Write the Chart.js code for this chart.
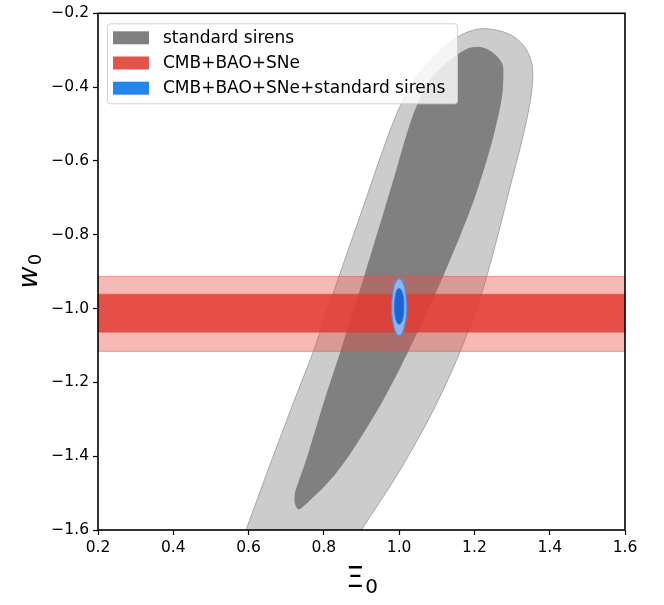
<!DOCTYPE html>
<html><head><meta charset="utf-8">
<script src="https://cdn.jsdelivr.net/npm/chart.js@4.4.1/dist/chart.umd.min.js"></script>
<style>html,body{margin:0;padding:0;background:#fff;}canvas{display:block;}</style>
</head><body>
<canvas id="c" width="664" height="605"></canvas>
<script>
// ---- tick labels ----
const xTicks = [0.2, 0.4, 0.6, 0.8, 1.0, 1.2, 1.4, 1.6];
const yTicks = [-1.6, -1.4, -1.2, -1.0, -0.8, -0.6, -0.4, -0.2];
// axis titles: [main symbol, subscript]
const xTitle = ['Ξ', '0'];
const yTitle = ['w', '0'];

// ---- legend ----
const legendLabels = ['standard sirens', 'CMB+BAO+SNe', 'CMB+BAO+SNe+standard sirens'];
const legendColors = ['#808080', '#e5544a', '#2684eb'];

// ---- standard sirens: 95% contour (outer) ----
const sirens95X = [0.576,0.595,0.656,0.720,0.771,0.816,0.861,0.907,0.943,0.971,1.003,1.048,1.101,1.155,1.208,1.256,1.301,1.333,1.349,1.355,1.352,1.341,1.323,1.296,1.261,1.219,1.161,1.089,1.001,0.903,0.869];
const sirens95Y = [-1.648,-1.595,-1.426,-1.253,-1.119,-0.985,-0.852,-0.718,-0.611,-0.531,-0.451,-0.371,-0.310,-0.264,-0.243,-0.245,-0.261,-0.291,-0.323,-0.358,-0.411,-0.478,-0.558,-0.665,-0.806,-0.959,-1.119,-1.279,-1.440,-1.595,-1.648];

// ---- standard sirens: 68% contour (inner) ----
const sirens68X = [0.843,0.885,0.925,0.965,0.992,1.011,1.027,1.043,1.083,1.136,1.181,1.216,1.243,1.261,1.275,1.277,1.275,1.269,1.251,1.229,1.199,1.164,1.120,1.085,1.023,0.955,0.875,0.837,0.803,0.771,0.749,0.733,0.723,0.723,0.731,0.752,0.776,0.800,0.843];
const sirens68Y = [-1.119,-0.985,-0.852,-0.718,-0.625,-0.558,-0.505,-0.459,-0.379,-0.326,-0.296,-0.291,-0.302,-0.318,-0.339,-0.363,-0.411,-0.451,-0.531,-0.611,-0.705,-0.798,-0.905,-0.985,-1.119,-1.253,-1.386,-1.440,-1.480,-1.512,-1.533,-1.544,-1.528,-1.501,-1.474,-1.413,-1.333,-1.253,-1.119];

// ---- CMB+BAO+SNe: w0 bands (upper, lower) ----
const cmbBandX = [0.1, 1.7];
const cmb95Y = [-0.913, -1.116];
const cmb68Y = [-0.961, -1.064];

// ---- CMB+BAO+SNe+standard sirens ----
const joint95X = [1.020,1.017,1.010,1.000,0.990,0.983,0.980,0.983,0.990,1.000,1.010,1.017,1.020];
const joint95Y = [-0.996,-0.957,-0.929,-0.918,-0.929,-0.957,-0.996,-1.035,-1.063,-1.074,-1.063,-1.035,-0.996];
const joint68X = [1.013,1.012,1.007,1.000,0.993,0.989,0.987,0.989,0.993,1.000,1.007,1.012,1.013];
const joint68Y = [-0.994,-0.970,-0.952,-0.945,-0.952,-0.970,-0.994,-1.019,-1.036,-1.043,-1.036,-1.019,-0.994];

// ---- helpers ----
const pts = (xs, ys) => xs.map((x, i) => ({x: x, y: ys[i]}));
const band = (ys) => [
  {x: cmbBandX[0], y: ys[0]}, {x: cmbBandX[1], y: ys[0]},
  {x: cmbBandX[1], y: ys[1]}, {x: cmbBandX[0], y: ys[1]}, {x: cmbBandX[0], y: ys[0]}
];
const fmt = v => (Math.round(v * 10) / 10).toFixed(1).replace('-', '\u2212');
const FAM = "'DejaVu Sans', sans-serif";

Chart.defaults.font.family = FAM;
Chart.defaults.color = '#000';

const common = {showLine: true, pointRadius: 0, pointHoverRadius: 0, fill: 'shape'};

function drawSubLabel(ctx, parts, cx, baseY, rot, mainFont, subFont, subDrop) {
  ctx.save();
  ctx.translate(cx, baseY);
  ctx.rotate(rot);
  ctx.fillStyle = '#000';
  ctx.textBaseline = 'alphabetic';
  ctx.textAlign = 'left';
  ctx.font = mainFont;
  const w1 = ctx.measureText(parts[0]).width;
  ctx.font = subFont;
  const w2 = ctx.measureText(parts[1]).width;
  const x0 = -(w1 + w2) / 2;
  ctx.font = mainFont;
  ctx.fillText(parts[0], x0, 0);
  ctx.font = subFont;
  ctx.fillText(parts[1], x0 + w1 + 1, subDrop);
  ctx.restore();
}

const frameAndLegend = {
  id: 'frameAndLegend',
  afterDatasetsDraw(chart) {
    const {ctx, chartArea: a} = chart;
    ctx.save();
    // axes frame
    ctx.strokeStyle = '#000';
    ctx.lineWidth = 1.6;
    ctx.strokeRect(a.left, a.top, a.right - a.left, a.bottom - a.top);
    // legend box
    const bx = a.left + 9.5, by = a.top + 10.5, bw = 350, bh = 80, r = 3;
    ctx.beginPath();
    ctx.moveTo(bx + r, by);
    ctx.lineTo(bx + bw - r, by); ctx.quadraticCurveTo(bx + bw, by, bx + bw, by + r);
    ctx.lineTo(bx + bw, by + bh - r); ctx.quadraticCurveTo(bx + bw, by + bh, bx + bw - r, by + bh);
    ctx.lineTo(bx + r, by + bh); ctx.quadraticCurveTo(bx, by + bh, bx, by + bh - r);
    ctx.lineTo(bx, by + r); ctx.quadraticCurveTo(bx, by, bx + r, by);
    ctx.closePath();
    ctx.fillStyle = 'rgba(255,255,255,0.8)';
    ctx.fill();
    ctx.strokeStyle = 'rgba(204,204,204,0.9)';
    ctx.lineWidth = 1;
    ctx.stroke();
    ctx.font = "17px " + FAM;
    ctx.textBaseline = 'middle';
    ctx.textAlign = 'left';
    legendLabels.forEach((lab, i) => {
      const cy = a.top + 24.5 + i * 25.2;
      ctx.fillStyle = legendColors[i];
      ctx.fillRect(a.left + 15, cy - 6.5, 36, 13);
      ctx.fillStyle = '#000';
      ctx.fillText(lab, a.left + 65, cy + 0.5);
    });
    ctx.restore();
  },
  afterDraw(chart) {
    const {ctx, chartArea: a} = chart;
    const cx = (a.left + a.right) / 2, cy = (a.top + a.bottom) / 2;
    drawSubLabel(ctx, xTitle, cx, 587, 0, "29px " + FAM, "20px " + FAM, 6);
    drawSubLabel(ctx, yTitle, 37, cy, -Math.PI / 2, "italic 27px " + FAM, "18px " + FAM, 4);
  }
};

new Chart(document.getElementById('c'), {
  type: 'scatter',
  data: {
    datasets: [
      {...common, label: legendLabels[2] + ' 68%', data: pts(joint68X, joint68Y), order: 0, tension: 0.4,
        backgroundColor: '#1b64d6', borderColor: 'rgba(60,130,230,0.9)', borderWidth: 1},
      {...common, label: legendLabels[2] + ' 95%', data: pts(joint95X, joint95Y), order: 1, tension: 0.4,
        backgroundColor: 'rgb(140,182,240)', borderColor: 'rgb(75,145,232)', borderWidth: 1.2},
      {...common, label: legendLabels[1] + ' 68%', data: band(cmb68Y), order: 2, tension: 0,
        backgroundColor: 'rgba(226,58,48,0.84)', borderColor: 'rgba(226,58,48,0.4)', borderWidth: 1},
      {...common, label: legendLabels[1] + ' 95%', data: band(cmb95Y), order: 3, tension: 0,
        backgroundColor: 'rgba(232,80,70,0.4)', borderColor: 'rgba(232,80,70,0.55)', borderWidth: 1},
      {...common, label: legendLabels[0] + ' 68%', data: pts(sirens68X, sirens68Y), order: 4, tension: 0.3,
        backgroundColor: '#808080', borderColor: 'rgba(128,128,128,0)', borderWidth: 0},
      {...common, label: legendLabels[0] + ' 95%', data: pts(sirens95X, sirens95Y), order: 5, tension: 0.3,
        backgroundColor: '#cccccc', borderColor: 'rgba(160,160,160,0.9)', borderWidth: 1}
    ]
  },
  options: {
    responsive: false,
    animation: false,
    events: [],
    layout: {padding: {top: 6, right: 39, left: 0, bottom: 0}},
    plugins: {legend: {display: false}, tooltip: {enabled: false}},
    scales: {
      x: {
        type: 'linear', min: 0.2, max: 1.6,
        afterBuildTicks: s => { s.ticks = xTicks.map(v => ({value: v})); },
        afterFit: s => { s.height = 75; },
        ticks: {callback: v => fmt(v), font: {size: 15.5}, color: '#000', padding: 4, maxRotation: 0, autoSkip: false},
        grid: {drawOnChartArea: false, drawTicks: true, tickLength: 5, tickWidth: 1.2, tickColor: '#000'},
        border: {display: false},
        title: {display: false}
      },
      y: {
        type: 'linear', min: -1.6, max: -0.2,
        afterBuildTicks: s => { s.ticks = yTicks.map(v => ({value: v})); },
        afterFit: s => { s.width = 98; },
        ticks: {callback: v => fmt(v), font: {size: 15.5}, color: '#000', padding: 4, autoSkip: false},
        grid: {drawOnChartArea: false, drawTicks: true, tickLength: 5, tickWidth: 1.2, tickColor: '#000'},
        border: {display: false},
        title: {display: false}
      }
    }
  },
  plugins: [frameAndLegend]
});
</script>
</body></html>
